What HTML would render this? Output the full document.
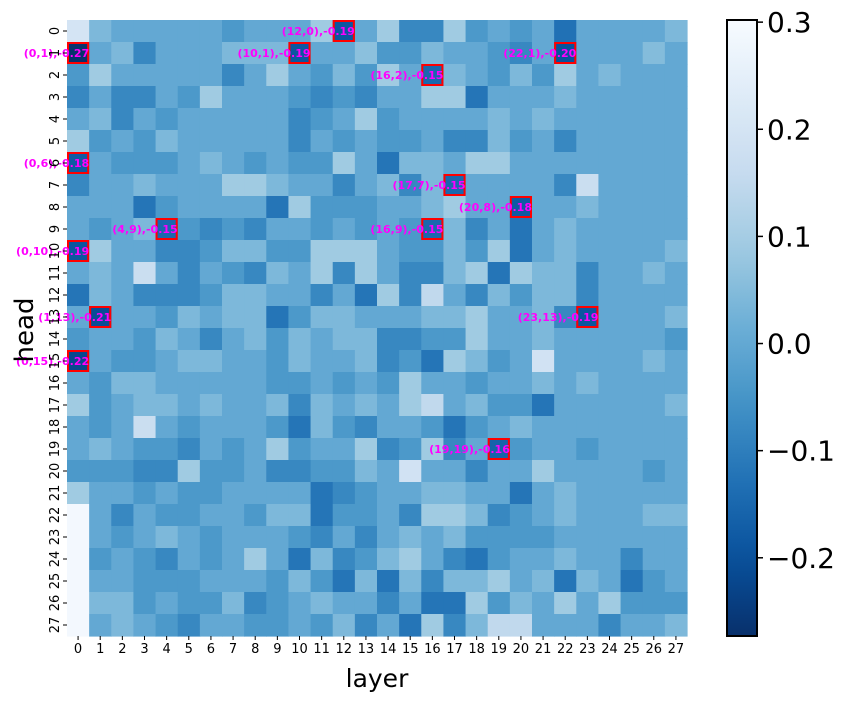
<!DOCTYPE html>
<html><head><meta charset="utf-8"><style>
body{margin:0;background:#fff;}
svg{display:block;font-family:"DejaVu Sans","Liberation Sans",sans-serif;}
</style></head>
<body>
<svg id="chart" width="850" height="703" viewBox="0 0 850 703" xmlns="http://www.w3.org/2000/svg">
<g id="cells"></g>
<g id="marks"></g>
<g id="xticks"></g>
<g id="yticks"></g>
<text x="377" y="687" font-size="25" text-anchor="middle" fill="#000">layer</text>
<text x="0" y="0" font-size="26" text-anchor="middle" fill="#000" transform="translate(33,330) rotate(-90)">head</text>
<defs><linearGradient id="cbg" x1="0" y1="1" x2="0" y2="0"></linearGradient></defs>
<rect x="727" y="20" width="30" height="616" fill="url(#cbg)" stroke="#000" stroke-width="2"/>
<g id="cbticks"></g>
</svg>
<script>
const layers=[0,1,2,3,4,5,6,7,8,9,10,11,12,13,14,15,16,17,18,19,20,21,22,23,24,25,26,27];
const heads=[0,1,2,3,4,5,6,7,8,9,10,11,12,13,14,15,16,17,18,19,20,21,22,23,24,25,26,27];
const values=[
[0.2,0.04,0,0,0,0,0,-0.04,0,0,0,0.09,-0.19,0,0.09,-0.08,-0.08,0.09,-0.04,0,-0.04,0,-0.13,0,0,0,0,0.04],
[-0.27,0,0.04,-0.08,0,0,0,0.04,0.04,0.04,-0.19,0,0,0.06,-0.04,-0.04,0.04,0,0,-0.04,-0.08,0,-0.2,0,0,0,0.05,0],
[-0.04,0.09,0,0,0,0,0,-0.08,0,0.09,0,-0.04,0.04,-0.04,0.09,0,-0.15,0.04,0,-0.04,0.04,-0.04,0.09,0,0.04,0,0,0],
[-0.08,0,-0.08,-0.08,0,-0.04,0.09,0,0,0,-0.04,-0.08,-0.04,-0.08,0,0,0.09,0.09,-0.12,0,0,0,0.04,0,0,0,0,0],
[0,0.04,-0.08,0,-0.04,0,0,0,0,0,-0.08,-0.04,0,0.09,-0.04,0,0,0,0,0.04,0,0.04,0,0,0,0,0,0],
[0.09,-0.04,0,-0.04,0.04,0,0,0,0,0,-0.08,0,-0.04,0,-0.04,-0.04,0,-0.08,-0.08,0.04,-0.04,0,-0.08,0,0,0,0,0],
[-0.18,0,-0.04,-0.04,-0.04,0,0.04,0,-0.04,0,-0.04,-0.04,0.09,0,-0.12,0.04,0.04,0,0.09,0.09,0,0,0,0,0,0,0,0],
[-0.08,0,0,0.04,0,0,0,0.09,0.09,0.04,0,0,-0.08,0,0.04,-0.08,0.04,-0.15,0,0,0,0,-0.08,0.17,0,0,0,0],
[0,0,0,-0.12,-0.04,0,0,0,0,-0.12,0.09,-0.04,-0.04,-0.04,0,0,0.04,0.09,0,0,-0.18,0,0,0.04,0,0,0,0],
[0,-0.04,0,0.04,-0.15,-0.04,-0.08,-0.04,-0.08,0,0,-0.04,0,-0.04,0,-0.04,-0.15,0.04,-0.08,0,-0.12,0,0.04,0,0,0,0,0],
[-0.19,0.09,0,0,-0.08,-0.08,-0.04,0.04,0.04,-0.04,-0.04,0.09,0.09,0.09,0,-0.04,-0.04,0.04,-0.04,0.09,-0.12,0,0.04,0,0,0,0,0.04],
[0,0.04,0,0.17,0,-0.08,0,-0.04,-0.08,0.04,0,0.09,-0.08,0.09,0,-0.08,-0.08,0.04,0.09,-0.12,0.09,0.04,0.04,-0.08,0,0,0.04,0],
[-0.12,0.04,0,-0.08,-0.08,-0.08,-0.04,0.04,0.04,0,0,-0.08,0,-0.12,0.09,-0.08,0.15,0,-0.08,0.04,-0.04,0.04,0.04,-0.08,0,0,0,0],
[0,-0.21,0,0,-0.04,0.04,0,0.04,0.04,-0.12,-0.04,0.04,0.04,0,0,0,0.04,0.04,0.09,0,0,0.04,-0.08,-0.19,0,0,0,0.04],
[-0.04,0,0,-0.04,0.04,0,-0.08,0,0.04,-0.04,0.04,0,0.04,0.04,-0.08,-0.08,-0.04,-0.04,0.09,0,0,0.04,0,0,0,0,0,-0.04],
[-0.22,0,-0.04,-0.04,0,0.04,0.04,0,0,-0.04,0.04,0,0,0.04,-0.08,-0.04,-0.12,0.09,0.04,-0.04,0,0.19,0,0,0,0,0.04,0],
[0,-0.04,0.04,0.04,0,0,0,0,0,-0.04,-0.04,0,-0.04,0,-0.04,0.09,0,0,-0.04,0,0,0.04,0,0.04,0,0,0,0],
[0.09,-0.04,0,0.04,0.04,0,0.04,0,0,0.04,-0.08,0.04,0,0.04,0,0.09,0.15,0,0.04,-0.04,-0.04,-0.12,0,0,0,0,0,0.04],
[0,-0.04,0,0.17,0,-0.04,0,0,0,-0.04,-0.12,0.04,-0.04,-0.08,0,0,-0.04,-0.12,-0.04,0,0.04,0,0,0,0,0,0,0],
[0,0.04,0,-0.04,-0.04,-0.08,0,-0.04,0,0.09,-0.04,0,0,0.09,-0.08,-0.04,0.09,-0.08,0,-0.16,-0.04,0,0,-0.04,0,0,0,0],
[-0.04,-0.04,-0.04,-0.08,-0.08,0.09,-0.04,-0.04,0,-0.08,-0.08,-0.04,-0.04,0.04,0,0.19,0,0,-0.08,0,0,0.09,0,0,0,0,-0.04,0],
[0.09,0,0,-0.04,0,-0.04,-0.04,0,0,0,0,-0.12,-0.08,-0.04,0,0,0.04,0.04,0,0,-0.12,0,0.04,0,0,0,0,0],
[0.29,0,-0.08,0,-0.04,-0.04,0,0,-0.04,0.04,0.04,-0.12,-0.04,-0.04,0,-0.08,0.09,0.09,0.04,-0.08,-0.04,0,0.04,0,0,0,0.04,0.04],
[0.29,0,-0.04,0,0.04,0,-0.04,0,0,0,-0.04,-0.08,0,-0.08,0,0.04,0,0.04,-0.04,-0.04,-0.04,-0.04,0,0,0,0,0,0],
[0.29,-0.04,0,-0.04,-0.08,0,-0.04,0,0.09,0,-0.12,0.04,-0.08,-0.04,0.04,0.09,0,-0.08,-0.12,-0.04,0,0,0.04,0,0,-0.08,0,0],
[0.29,0,0,-0.04,-0.04,-0.04,0,0,0,-0.04,0.04,-0.04,-0.12,0.04,-0.12,0.04,-0.08,0.04,0.04,0.09,0,0.04,-0.12,0.04,0,-0.12,-0.04,0],
[0.29,0.04,0.04,-0.04,0,-0.04,-0.04,0.04,-0.08,-0.04,0,0.04,0,0,-0.08,0,-0.12,-0.12,0.09,-0.04,0.04,0,0.09,0,0.09,-0.04,-0.04,-0.04],
[0.29,0,0.04,0,-0.04,-0.08,0,0,-0.04,-0.04,0,-0.04,0.04,-0.08,0,-0.12,0.09,-0.08,0.04,0.15,0.15,0,0,0,-0.08,0,0,0.04]
];
const annotLayer=[12,0,10,22,16,0,17,20,4,16,0,1,23,0,19];
const annotHead=[0,1,1,1,2,6,7,8,9,9,10,13,13,15,19];
const annotText=["-0.19","-0.27","-0.19","-0.20","-0.15","-0.18","-0.15","-0.18","-0.15","-0.15","-0.19","-0.21","-0.19","-0.22","-0.16"];
const cbTicks=[0.3,0.2,0.1,0.0,-0.1,-0.2];
const cbLabels=["0.3","0.2","0.1","0.0","\u22120.1","\u22120.2"];

const X0=67,X1=687,Y0=20,Y1=636,VMIN=-0.273,VMAX=0.302;
const cw=(X1-X0)/layers.length, ch=(Y1-Y0)/heads.length;
const xs=i=>X0+i*cw, ys=j=>Y0+j*ch;
const cy=v=>Y1-(v-VMIN)/(VMAX-VMIN)*(Y1-Y0);
const stops=[[247,251,255],[222,235,247],[198,219,239],[158,202,225],[107,174,214],[66,146,198],[33,113,181],[8,81,156],[8,48,107]];
function color(v){
  let t=(VMAX-v)/(VMAX-VMIN); t=Math.max(0,Math.min(1,t));
  const p=t*8, i=Math.min(7,Math.floor(p)), f=p-i;
  const a=stops[i],b=stops[i+1];
  return `rgb(${a.map((c,k)=>Math.round(c+(b[k]-c)*f)).join(',')})`;
}
const NS="http://www.w3.org/2000/svg";
function mk(tag,attrs,parent){const e=document.createElementNS(NS,tag);for(const k in attrs)e.setAttribute(k,attrs[k]);parent.appendChild(e);return e;}
const cells=document.getElementById('cells');
heads.forEach((h,j)=>layers.forEach((l,i)=>{
  const r=mk('rect',{x:xs(i),y:ys(j),width:cw+0.6,height:ch+0.6,fill:color(values[j][i])},cells);
  
  
}));
const marks=document.getElementById('marks');
annotLayer.forEach((l,k)=>{
  const h=annotHead[k];
  const r=mk('rect',{x:xs(l)+1,y:ys(h)+1,width:cw-2,height:ch-2,fill:'none',stroke:'#ff0000','stroke-width':2},marks);
  
  
  const t=mk('text',{x:xs(l)+cw,y:ys(h)+ch/2+4,'font-size':11,'font-weight':'bold',fill:'#ff00ff','text-anchor':'end'},marks);
  t.textContent=`(${l},${h}),${annotText[k]}`;
  
  
});
const xt=document.getElementById('xticks');
layers.forEach((l,i)=>{
  const x=xs(i)+cw/2;
  const tk=mk('line',{x1:x,x2:x,y1:Y1,y2:Y1+4,stroke:'#000'},xt);
  
  
  const t=mk('text',{x:x,y:Y1+17,'font-size':13,'text-anchor':'middle',fill:'#000'},xt);
  t.textContent=l;
  
  
});
const yt=document.getElementById('yticks');
heads.forEach((h,j)=>{
  const y=ys(j)+ch/2;
  const tk=mk('line',{x1:X0-4,x2:X0,y1:y,y2:y,stroke:'#000'},yt);
  
  
  const t=mk('text',{x:0,y:0,'font-size':13,'text-anchor':'middle',fill:'#000',transform:`translate(${X0-8},${y}) rotate(-90)`},yt);
  t.textContent=h;
  
  
});
const g=document.getElementById('cbg');
for(let k=0;k<=20;k++){const v=VMIN+(VMAX-VMIN)*k/20;mk('stop',{offset:(k/20),'stop-color':color(v)},g);}
const cbt=document.getElementById('cbticks');
cbTicks.forEach((v,k)=>{
  const y=cy(v);
  const tk=mk('line',{x1:757,x2:763,y1:y,y2:y,stroke:'#000','stroke-width':1.5},cbt);
  
  
  const t=mk('text',{x:767,y:y+10,'font-size':28,fill:'#000'},cbt);
  t.textContent=cbLabels[k];
  
  
});
</script>
</body></html>
